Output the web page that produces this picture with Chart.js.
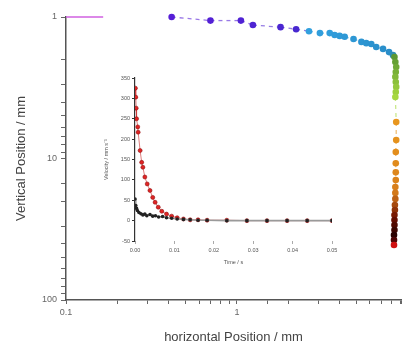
<!DOCTYPE html>
<html>
<head>
<meta charset="utf-8">
<script src="https://cdn.jsdelivr.net/npm/chart.js@4.4.1/dist/chart.umd.min.js"></script>
<style>
    html, body { margin: 0; padding: 0; background: #fff; }
    #wrap { position: relative; width: 405px; height: 347px; }
    #main { position: absolute; left: 0; top: 0; width: 405px; height: 347px; }
    #inset { position: absolute; left: 96px; top: 70px; width: 245px; height: 200px; }
</style>
</head>
<body>
<div id="wrap">
    <div id="main"><canvas id="mainChart"></canvas></div>
    <div id="inset"><canvas id="insetChart"></canvas></div>
</div>
<script>
// main plot: position of the particle (mm)
const posX = [
    0.415, 0.70, 1.055, 1.24, 1.80, 2.22,
    2.64, 3.06, 3.49, 3.73, 3.99, 4.27, 4.81, 5.35, 5.71, 6.11, 6.53, 7.16, 7.76, 8.19,
    8.35, 8.45, 8.55, 8.5, 8.45, 8.5, 8.55, 8.5, 8.45,
    8.55, 8.55, 8.5, 8.5, 8.5, 8.5, 8.45, 8.45, 8.45, 8.4,
    8.4, 8.35, 8.35, 8.35, 8.35, 8.3, 8.3, 8.3
];
const posY = [
    1.0, 1.06, 1.06, 1.14, 1.18, 1.22,
    1.26, 1.30, 1.30, 1.34, 1.36, 1.38, 1.43, 1.50, 1.53, 1.55, 1.63, 1.68, 1.77, 1.86,
    1.92, 2.08, 2.26, 2.45, 2.65, 2.88, 3.12, 3.39, 3.68,
    5.52, 7.40, 9.0, 10.8, 12.5, 14.2, 15.9, 17.5, 19.3, 21.3,
    23.1, 25.1, 27.2, 29.5, 32.0, 34.7, 37.7, 40.9
];
// short magenta marker line at the top left
const markX = [0.1, 0.165];
const markY = [1, 1];

// inset: velocity vs time
const redT = [0.0001, 0.0002, 0.0003, 0.0004, 0.0007, 0.0008, 0.0013, 0.0017, 0.0020, 0.0025,
    0.0031, 0.0038, 0.0045, 0.0051, 0.0059, 0.0068, 0.0080, 0.0093, 0.0107, 0.0123,
    0.0140, 0.0160, 0.0183, 0.0233, 0.0284, 0.0335, 0.0386, 0.0437, 0.0500];
const redV = [325, 303, 276, 250, 230, 217, 172, 143, 131, 107,
    90, 74, 57, 45, 33, 23, 16, 11, 7, 4,
    2, 2, 1, 1, 0, 0, 0, 0, 0];
const blackT = [0.0000, 0.0002, 0.0004, 0.0006, 0.0010, 0.0015, 0.0020, 0.0025, 0.0030, 0.0038,
    0.0045, 0.0052, 0.0060, 0.0070, 0.0080, 0.0093, 0.0107, 0.0123, 0.0140, 0.0160,
    0.0183, 0.0233, 0.0284, 0.0335, 0.0386, 0.0437, 0.0500];
const blackV = [53, 37, 30, 25, 20, 17, 14, 16, 12, 15,
    11, 12, 9, 10, 7, 6, 4, 3, 2, 1,
    1, 0, 0, 0, 0, 0, 0];

const mainTicks = [0.1, 1, 10, 100];
const insetTimeTicks = [0, 0.01, 0.02, 0.03, 0.04, 0.05];

// rainbow along the path
const stops = [
    [0, [86, 30, 214]], [0.11, [72, 40, 208]],
    [0.13, [50, 160, 222]], [0.41, [40, 140, 200]],
    [0.43, [90, 150, 50]], [0.61, [168, 216, 64]],
    [0.63, [232, 150, 30]], [0.78, [214, 124, 26]],
    [0.88, [110, 16, 0]], [0.97, [30, 0, 0]], [1, [208, 16, 16]]
];
function colorAt(i, a) {
    const f = i / (posX.length - 1);
    let k = 0;
    while (k < stops.length - 2 && f > stops[k + 1][0]) k++;
    const [f0, c0] = stops[k], [f1, c1] = stops[k + 1];
    const t = Math.min(1, Math.max(0, (f - f0) / (f1 - f0)));
    const c = c0.map((v, j) => Math.round(v + (c1[j] - v) * t));
    return `rgba(${c[0]},${c[1]},${c[2]},${a === undefined ? 1 : a})`;
}

const isMainTick = (v) => mainTicks.some((m) => Math.abs(v - m) / m < 1e-6);
const font = "'Liberation Sans', Arial, sans-serif";

const pathPoints = posX.map((x, i) => ({ x: x, y: posY[i] }));

new Chart(document.getElementById("mainChart"), {
    type: "scatter",
    data: {
        datasets: [
            {
                data: markX.map((x, i) => ({ x: x, y: markY[i] })),
                showLine: true,
                clip: false,
                borderColor: "#d060e0",
                borderWidth: 1.5,
                pointRadius: 0,
            },
            {
                data: pathPoints,
                showLine: true,
                clip: false,
                borderWidth: 1.3,
                borderDash: [4, 4],
                segment: {
                    borderColor: (ctx) => colorAt(ctx.p0DataIndex, 0.6),
                },
                pointRadius: 3.3,
                pointBorderWidth: 0,
                pointBackgroundColor: pathPoints.map((p, i) => colorAt(i)),
            },
        ],
    },
    options: {
        responsive: true,
        maintainAspectRatio: false,
        animation: false,
        layout: { padding: { top: 17, right: 0, left: 0, bottom: 0 } },
        plugins: { legend: { display: false }, tooltip: { enabled: false } },
        scales: {
            x: {
                type: "logarithmic",
                min: 0.1,
                max: 9.12,
                afterFit: (s) => { s.height = 47; },
                border: { color: "#555", width: 1.5 },
                grid: { drawOnChartArea: false, tickLength: 4, color: "#666" },
                ticks: {
                    autoSkip: false,
                    maxRotation: 0,
                    padding: 3,
                    color: "#666",
                    font: { family: font, size: 9 },
                    callback: (v) => (isMainTick(v) ? String(Math.round(v * 10) / 10) : ""),
                },
                title: {
                    display: true,
                    text: "horizontal Position / mm",
                    color: "#444",
                    font: { family: font, size: 13 },
                    padding: { top: 0, bottom: 2 },
                },
            },
            y: {
                type: "logarithmic",
                min: 1,
                max: 100,
                reverse: true,
                afterFit: (s) => { s.width = 66; },
                border: { color: "#555", width: 1.5 },
                grid: { drawOnChartArea: false, tickLength: 5, color: "#666" },
                ticks: {
                    autoSkip: false,
                    padding: 4,
                    color: "#666",
                    font: { family: font, size: 9 },
                    callback: (v) => (isMainTick(v) ? String(Math.round(v)) : ""),
                },
                title: {
                    display: true,
                    text: "Vertical Position / mm",
                    color: "#444",
                    font: { family: font, size: 13 },
                    padding: { top: 14, bottom: 0 },
                },
            },
        },
    },
});

new Chart(document.getElementById("insetChart"), {
    type: "scatter",
    data: {
        datasets: [
            {
                data: blackT.map((t, i) => ({ x: t, y: blackV[i] })),
                showLine: true,
                borderColor: "#9a9a9a",
                borderWidth: 1.6,
                pointRadius: 1.8,
                pointBorderWidth: 0,
                pointBackgroundColor: "#222",
                order: 1,
            },
            {
                data: redT.map((t, i) => ({ x: t, y: redV[i] })),
                showLine: true,
                borderColor: "rgba(200,40,40,0.6)",
                borderWidth: 1,
                pointRadius: 2,
                pointBorderWidth: 0.6,
                pointBorderColor: "#901010",
                pointBackgroundColor: "#e02424",
                order: 2,
            },
        ],
    },
    options: {
        responsive: true,
        maintainAspectRatio: false,
        animation: false,
        layout: { padding: { top: 8, right: 9, left: 0, bottom: 0 } },
        plugins: { legend: { display: false }, tooltip: { enabled: false } },
        scales: {
            x: {
                type: "linear",
                min: 0,
                max: 0.05,
                afterFit: (s) => { s.height = 29; },
                afterBuildTicks: (s) => { s.ticks = insetTimeTicks.map((v) => ({ value: v })); },
                border: { display: false },
                grid: { drawOnChartArea: false, tickLength: 3, color: "#aaa" },
                ticks: {
                    maxRotation: 0,
                    padding: 3,
                    color: "#555",
                    font: { family: font, size: 5.5 },
                    callback: (v) => Number(v).toFixed(2),
                },
                title: {
                    display: true,
                    text: "Time / s",
                    color: "#555",
                    font: { family: font, size: 5.5 },
                    padding: { top: 0, bottom: 4.5 },
                },
            },
            y: {
                type: "linear",
                min: -50,
                max: 350,
                afterFit: (s) => { s.width = 39; },
                border: { color: "#333", width: 1.2 },
                grid: { drawOnChartArea: false, tickLength: 3, color: "#333" },
                ticks: {
                    stepSize: 50,
                    padding: 2,
                    color: "#555",
                    font: { family: font, size: 5.5 },
                },
                title: {
                    display: true,
                    text: "Velocity / mm s\u207B\u00B9",
                    color: "#555",
                    font: { family: font, size: 5.5 },
                    padding: { top: 6.7, bottom: 0 },
                },
            },
        },
    },
});
</script>
</body>
</html>
